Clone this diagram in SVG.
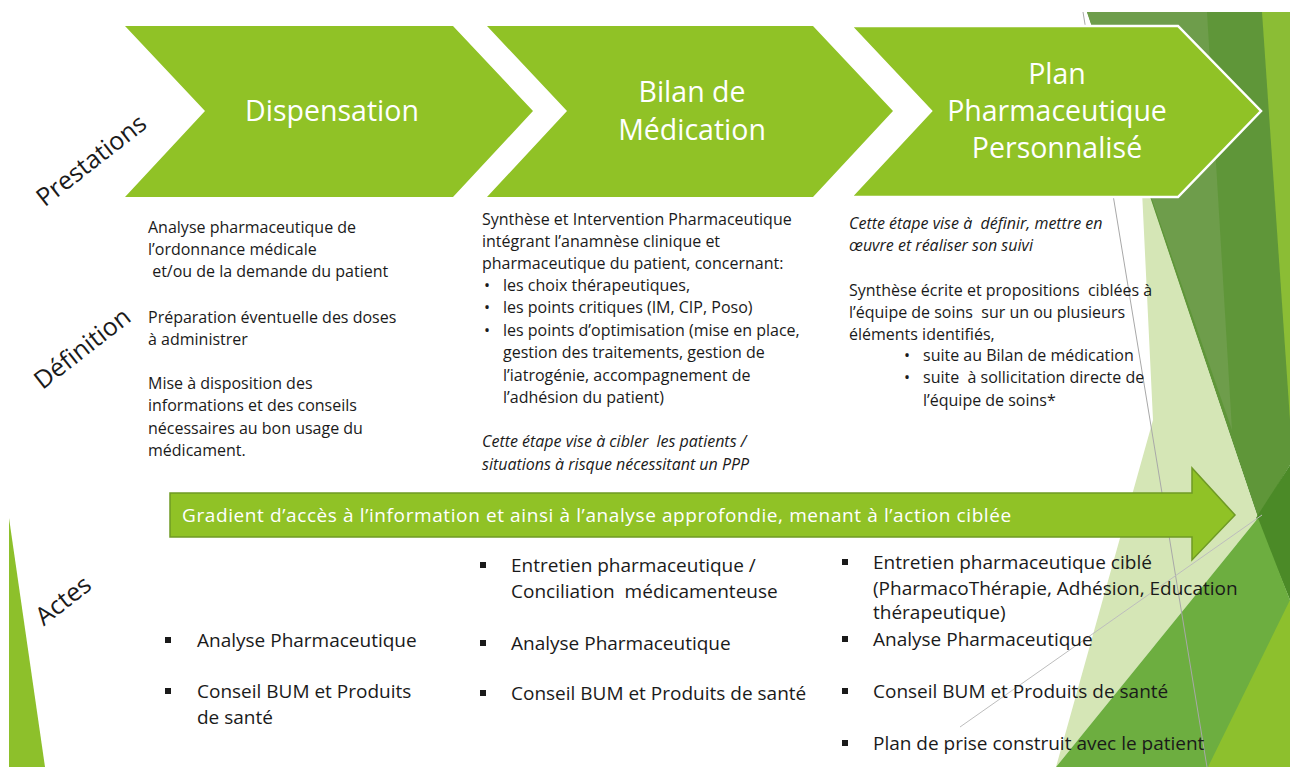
<svg xmlns="http://www.w3.org/2000/svg" width="1290" height="767" viewBox="0 0 1290 767">
<style>
text{font-family:"Open Sans","Noto Sans","DejaVu Sans",sans-serif;fill:#1a1a1a;white-space:pre}
.title{fill:#ffffff;font-size:28.5px;text-anchor:middle}
.side{font-size:25px;text-anchor:middle}
.def{font-size:16px}
.it{font-style:italic}
.act{font-size:19px}
.arrowtxt{fill:#ffffff;font-size:19px;letter-spacing:0.6px}
.chev{fill:#90C226}
.sq{fill:#1a1a1a}
</style>
<rect width="1290" height="767" fill="#ffffff"/>
<g id="decoration">
  <polygon points="1087,12 1290,12 1290,465 1258,518" fill="#5f9639"/>
  <polygon points="1087,12 1207,12 1232,430" fill="#6e9d4b"/>
  <polygon points="1262,12 1290,12 1290,420" fill="#8bbd35"/>
  <polygon points="1141,170 1153,420 1056,767 1258,518" fill="#d5e6b6"/>
  <polygon points="1256,518 1290,465 1290,600" fill="#4b8a27"/>
  <polygon points="1056,767 1258,518 1290,600 1290,767" fill="#6dae40"/>
  <polygon points="1208,767 1290,600 1290,767" fill="#8dc02d"/>
  <polygon points="9,518 45,767 9,767" fill="#8dc02b"/>
  <line x1="1083" y1="12" x2="1207" y2="767" stroke="#a8a8a8" stroke-width="1"/>
  <line x1="960" y1="727" x2="1262" y2="515" stroke="#bdbdbd" stroke-width="1"/>
</g>
<g id="labels">
  <text class="side" transform="translate(91,160) rotate(-38)" y="9">Prestations</text>
  <text class="side" transform="translate(82,348) rotate(-38)" y="9">Définition</text>
  <text class="side" transform="translate(63,600) rotate(-38)" y="9">Actes</text>
</g>
<g id="dispensation">
  <polygon class="chev" points="125,26 453,26 533,111 453,197 125,197 205,111"/>
  <text class="title" x="332" y="121">Dispensation</text>
</g>
<g id="bilan">
  <polygon class="chev" points="487,26 813,26 893,111 813,197 487,197 567,111"/>
  <text class="title" x="692" y="102">Bilan de</text>
  <text class="title" x="692" y="140">Médication</text>
</g>
<g id="ppp">
  <polygon class="chev" points="851,26 1178,26 1261,111 1178,197 851,197 931,111" stroke="#ffffff" stroke-width="2.5"/>
  <text class="title" x="1057" y="84">Plan</text>
  <text class="title" x="1057" y="121">Pharmaceutique</text>
  <text class="title" x="1057" y="158">Personnalisé</text>
</g>
<g id="def-dispensation" class="def">
  <text x="148" y="233">Analyse pharmaceutique de</text>
  <text x="148" y="255">l’ordonnance médicale</text>
  <text x="148" y="277"> et/ou de la demande du patient</text>
  <text x="148" y="323">Préparation éventuelle des doses</text>
  <text x="148" y="345">à administrer</text>
  <text x="148" y="389">Mise à disposition des</text>
  <text x="148" y="411">informations et des conseils</text>
  <text x="148" y="434">nécessaires au bon usage du</text>
  <text x="148" y="456">médicament.</text>
</g>
<g id="def-bilan" class="def">
  <text x="482" y="225">Synthèse et Intervention Pharmaceutique</text>
  <text x="482" y="247">intégrant l’anamnèse clinique et</text>
  <text x="482" y="269">pharmaceutique du patient, concernant:</text>
  <text x="484" y="291">•</text><text x="503" y="291">les choix thérapeutiques,</text>
  <text x="484" y="313">•</text><text x="503" y="313">les points critiques (IM, CIP, Poso)</text>
  <text x="484" y="336">•</text><text x="503" y="336">les points d’optimisation (mise en place,</text>
  <text x="503" y="358">gestion des traitements, gestion de</text>
  <text x="503" y="381">l’iatrogénie, accompagnement de</text>
  <text x="503" y="403">l’adhésion du patient)</text>
  <text class="it" x="482" y="447">Cette étape vise à cibler  les patients /</text>
  <text class="it" x="482" y="470">situations à risque nécessitant un PPP</text>
</g>
<g id="def-ppp" class="def">
  <text class="it" x="849" y="229">Cette étape vise à  définir, mettre en</text>
  <text class="it" x="849" y="251">œuvre et réaliser son suivi</text>
  <text x="849" y="296">Synthèse écrite et propositions  ciblées à</text>
  <text x="849" y="318">l’équipe de soins  sur un ou plusieurs</text>
  <text x="849" y="340">éléments identifiés,</text>
  <text x="904" y="361">•</text><text x="923" y="361">suite au Bilan de médication</text>
  <text x="904" y="383">•</text><text x="923" y="383">suite  à sollicitation directe de</text>
  <text x="923" y="406">l’équipe de soins*</text>
</g>
<g id="gradient-arrow">
  <polygon points="170,493 1192,493 1192,468 1235,515 1192,560 1192,537 170,537" fill="#90C226" stroke="#6f9a25" stroke-width="1.5"/>
  <text class="arrowtxt" x="182" y="522">Gradient d’accès à l’information et ainsi à l’analyse approfondie, menant à l’action ciblée</text>
</g>
<g id="actes-dispensation" class="act">
  <rect class="sq" x="165" y="637" width="6" height="6"/>
  <text x="197" y="647">Analyse Pharmaceutique</text>
  <rect class="sq" x="165" y="688" width="6" height="6"/>
  <text x="197" y="698">Conseil BUM et Produits</text>
  <text x="197" y="724">de santé</text>
</g>
<g id="actes-bilan" class="act">
  <rect class="sq" x="480" y="562" width="6" height="6"/>
  <text x="511" y="572">Entretien pharmaceutique /</text>
  <text x="511" y="598">Conciliation  médicamenteuse</text>
  <rect class="sq" x="480" y="640" width="6" height="6"/>
  <text x="511" y="650">Analyse Pharmaceutique</text>
  <rect class="sq" x="480" y="690" width="6" height="6"/>
  <text x="511" y="700">Conseil BUM et Produits de santé</text>
</g>
<g id="actes-ppp" class="act">
  <rect class="sq" x="842" y="559" width="6" height="6"/>
  <text x="873" y="569">Entretien pharmaceutique ciblé</text>
  <text x="873" y="595">(PharmacoThérapie, Adhésion, Education</text>
  <text x="873" y="619">thérapeutique)</text>
  <rect class="sq" x="842" y="636" width="6" height="6"/>
  <text x="873" y="646">Analyse Pharmaceutique</text>
  <rect class="sq" x="842" y="688" width="6" height="6"/>
  <text x="873" y="698">Conseil BUM et Produits de santé</text>
  <rect class="sq" x="842" y="740" width="6" height="6"/>
  <text x="873" y="750">Plan de prise construit avec le patient</text>
</g>
<g id="connectors"></g>
</svg>
